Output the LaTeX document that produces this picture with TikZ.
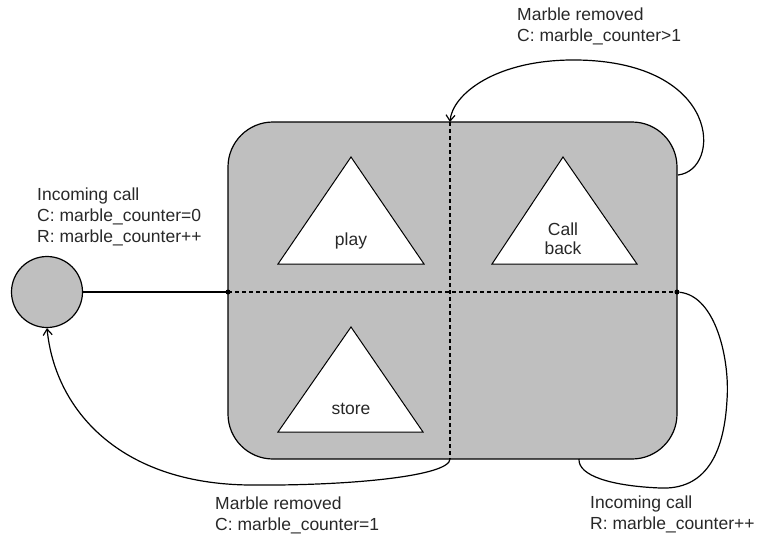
\documentclass[tikz,border=0pt]{standalone}
\usepackage{fontspec}
\setmainfont{Liberation Sans}
\usetikzlibrary{arrows.meta}
\definecolor{boxgray}{RGB}{191,191,191}
\definecolor{txtgray}{RGB}{40,40,40}
\begin{document}
\begin{tikzpicture}[x=1pt,y=-1pt,
  lbl/.style={font=\fontsize{17.5}{21}\selectfont, text=txtgray, align=left, inner sep=0pt, anchor=base west},
  tlbl/.style={font=\fontsize{17.5}{19}\selectfont, text=txtgray, align=center, inner sep=0pt},
  tri/.style={draw, fill=white, line width=1pt, line join=miter},
  conn/.style={draw, line width=1.2pt},
  arr/.style={conn, -{Straight Barb[length=6pt,width=9pt,line width=1.2pt]}},
  divider/.style={draw, line width=1.1pt, dash pattern=on 4pt off 3pt},
  dot/.style={circle, fill=black, inner sep=0pt, minimum size=5pt}]
\useasboundingbox (0,0) rectangle (758,535);
% main state box
\node[draw, fill=boxgray, rounded corners=45pt, minimum width=449pt, minimum height=337pt,
      line width=1.2pt, inner sep=0pt] (box) at (452.5,290.5) {};
% named points on the box
\coordinate (vtop) at (450,122);
\coordinate (vbot) at (450,459);
\coordinate (hleft) at (228,292);
\coordinate (hright) at (677,292);
\coordinate (topout) at (678,175);
\coordinate (botin) at (579,459);
\draw[divider] (vtop) -- (vbot);
\draw[divider] (hleft) -- (hright);
% triangles
\draw[tri] (351,157) -- (278,264) -- (424,264) -- cycle;
\node[tlbl] (play) at (351,241) {play};
\draw[tri] (563,157) -- (492,264) -- (637,264) -- cycle;
\node[tlbl] (callback) at (563,239) {Call\\back};
\draw[tri] (351,327) -- (278,432) -- (423,432) -- cycle;
\node[tlbl] (store) at (351,409) {store};
% initial state
\node[draw, circle, fill=boxgray, minimum size=71pt, inner sep=0pt, line width=1.2pt] (init) at (47,292) {};
\draw[conn] (init.east) -- (hleft);
\node[dot] (dl) at (hleft) {};
\node[dot] (dr) at (hright) {};
% transitions
\draw[arr] (topout) .. controls (722,170) and (722,62) .. (577,60)
   .. controls (495,59) and (452,95) .. (vtop);
\draw[conn] (dr) .. controls (716,296) and (730,360) .. (727,400)
   .. controls (724,455) and (705,490) .. (660,488)
   .. controls (612,486) and (578,476) .. (botin);
\draw[arr] (vbot) .. controls (450,476) and (350,486) .. (250,485)
   .. controls (120,484) and (55,410) .. (init.south);
% labels (anchored at the baseline of their last line)
\node[lbl] (l1) at (37,242) {Incoming call\\C: marble\_counter=0\\R: marble\_counter++};
\node[lbl] (l2) at (517,42) {Marble removed\\C: marble\_counter>1};
\node[lbl] (l3) at (590,529) {Incoming call\\R: marble\_counter++};
\node[lbl] (l4) at (215,530) {Marble removed\\C: marble\_counter=1};
\end{tikzpicture}
\end{document}
